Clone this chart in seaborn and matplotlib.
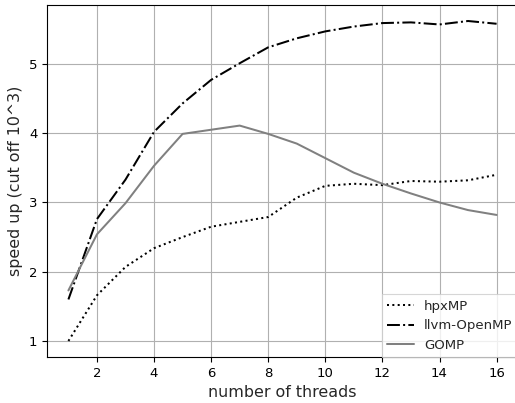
import numpy as np
import pandas as pd
import matplotlib
matplotlib.use("Agg")
import matplotlib.pyplot as plt
import seaborn as sns

threads = list(range(1, 17))
hpxmp = [1.0, 1.66, 2.07, 2.34, 2.50, 2.65, 2.72, 2.79, 3.07, 3.24, 3.27, 3.25, 3.31, 3.30, 3.32, 3.40]
llvm = [1.60, 2.76, 3.33, 4.02, 4.43, 4.77, 5.01, 5.24, 5.37, 5.47, 5.54, 5.59, 5.60, 5.57, 5.62, 5.58]
gomp = [1.73, 2.54, 2.99, 3.53, 3.99, 4.05, 4.11, 3.99, 3.85, 3.64, 3.43, 3.27, 3.13, 3.00, 2.89, 2.82]
series_names = ["hpxMP", "llvm-OpenMP", "GOMP"]

df = pd.DataFrame({
    "threads": threads * 3,
    "speedup": hpxmp + llvm + gomp,
    "runtime": [series_names[0]] * 16 + [series_names[1]] * 16 + [series_names[2]] * 16,
})

sns.set_style("white")
plt.rcParams["font.family"] = ["DejaVu Sans"]

fig = plt.figure(figsize=(5.15, 4.03), dpi=100)
ax = fig.add_axes([47 / 515, (403 - 357) / 403, 471 / 515, 352 / 403])

sns.lineplot(
    data=df, x="threads", y="speedup", hue="runtime", style="runtime",
    palette={"hpxMP": "black", "llvm-OpenMP": "black", "GOMP": "#808080"},
    dashes={"hpxMP": (1, 1.65), "llvm-OpenMP": (6.4, 1.6, 1, 1.6), "GOMP": ""},
    linewidth=1.45, ax=ax, legend=True,
)

ax.grid(True, color="#b0b0b0", linewidth=0.8)
ax.set_axisbelow(True)
for s in ax.spines.values():
    s.set_color("black")
    s.set_linewidth(0.8)
ax.tick_params(axis="both", which="both", direction="out", length=3.5, width=0.8,
               labelsize=9.5, colors="black", left=True, bottom=True)
ax.set_xticks([2, 4, 6, 8, 10, 12, 14, 16])
ax.set_yticks([1, 2, 3, 4, 5])
ax.set_xlabel("number of threads", fontsize=11.4)
ax.set_ylabel("speed up (cut off 10^3)", fontsize=11.4)

handles, labels = ax.get_legend_handles_labels()
leg = ax.legend(handles, labels, loc="lower right", bbox_to_anchor=(1.0, 0.0),
                fancybox=False, framealpha=0.8, edgecolor="#cccccc", fontsize=9.5,
                borderaxespad=0)
leg.get_frame().set_linewidth(0.8)

fig.savefig("out.png", dpi=100)
